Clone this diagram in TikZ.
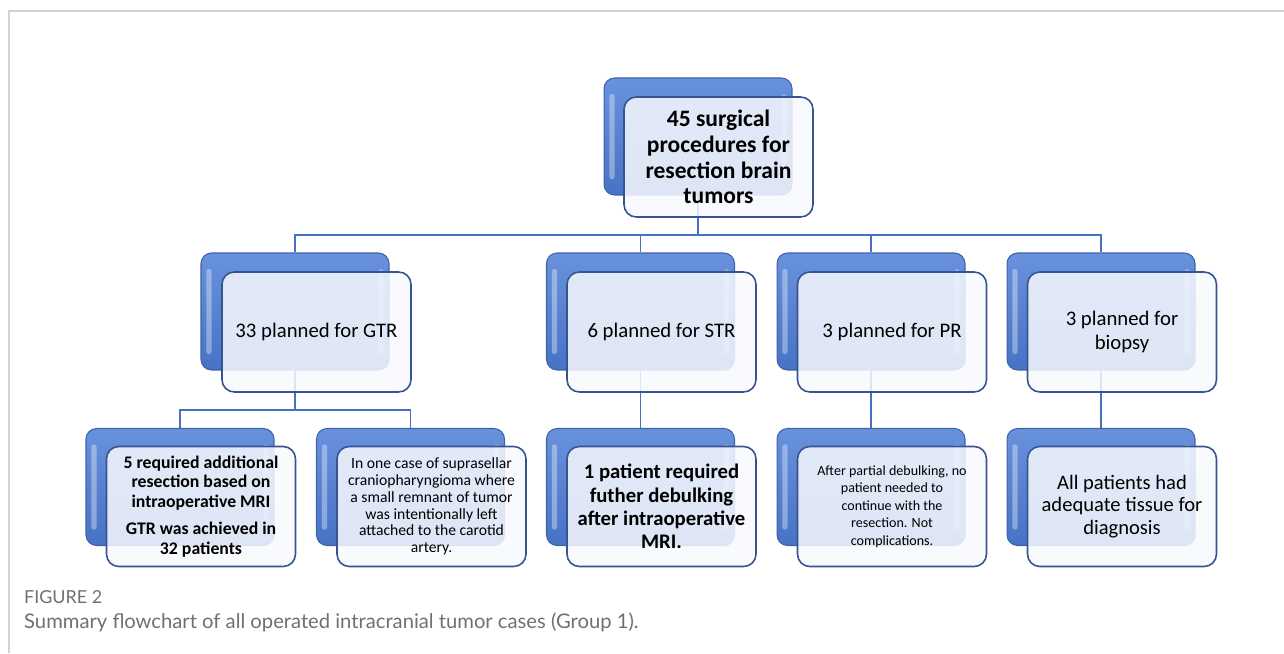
\documentclass[tikz,border=0pt]{standalone}
\usepackage{fontspec}
\setmainfont{Carlito}
\newfontfamily\capfont{Lato}
\usepackage{tikz}
\usetikzlibrary{positioning,calc,backgrounds}

\definecolor{backtop}{RGB}{104,146,220}
\definecolor{backbot}{RGB}{72,114,196}
\definecolor{backedge}{RGB}{62,98,172}
\definecolor{frontedge}{RGB}{54,84,146}
\definecolor{frontfill}{RGB}{247,249,254}
\definecolor{linkblue}{RGB}{68,114,196}
\definecolor{capgray}{RGB}{112,112,112}
\definecolor{framegray}{RGB}{210,210,210}

\begin{document}
\begin{tikzpicture}[x=0.02cm, y=-0.02cm,
    back/.style={rectangle, rounded corners=6pt, draw=backedge, line width=0.6pt,
                 top color=backtop, bottom color=backbot,
                 minimum width=3.76cm, minimum height=2.34cm, inner sep=0pt,
                 path picture={
                   \fill[white, opacity=0.35, rounded corners=1.5pt]
                     ($(path picture bounding box.north west)+(3pt,-9pt)$) rectangle
                     ($(path picture bounding box.south west)+(6pt,9pt)$);
                   \fill[white, opacity=0.25, rounded corners=1.5pt]
                     ($(path picture bounding box.north east)+(-6pt,-9pt)$) rectangle
                     ($(path picture bounding box.south east)+(-3pt,9pt)$);}},
    front/.style={rectangle, rounded corners=7pt, draw=frontedge, line width=0.9pt,
                  fill=frontfill, fill opacity=0.86, text opacity=1,
                  minimum width=3.78cm, minimum height=2.4cm, inner sep=0pt,
                  align=center},
    link/.style={draw=linkblue, line width=0.8pt},
]
    \useasboundingbox (0,0) rectangle (1284,653);
    \draw[framegray, line width=0.8pt] (9,653) -- (9,11) -- (1284,11);

    % Top
    \node[back] (totB) at (698,136.5) {};
    \node[front, font=\bfseries\fontsize{13.4}{14.7}\selectfont] (tot) at (718.5,157)
        {45 surgical\\procedures for\\resection brain\\tumors};

    % Planned resections
    \node[back] (gtrB) at (295,311.5) {};
    \node[front, font=\fontsize{11.8}{13.2}\selectfont] (gtr) at (316.5,332) {33 planned for GTR};

    \node[back] (strB) at (640.5,311.5) {};
    \node[front, font=\fontsize{11.8}{13.2}\selectfont] (str) at (661.5,332) {6 planned for STR};

    \node[back] (prB) at (871,311.5) {};
    \node[front, font=\fontsize{11.8}{13.2}\selectfont] (pr) at (892,332) {3 planned for PR};

    \node[back] (bioB) at (1101,311.5) {};
    \node[front, font=\fontsize{11.8}{13.2}\selectfont] (bio) at (1122,332) {3 planned for\\biopsy};

    % Outcomes
    \node[back] (addB) at (180,487) {};
    \node[front, font=\bfseries\fontsize{10.1}{11.3}\selectfont] (add) at (201,506.5)
        {5 required additional\\resection based on\\intraoperative MRI\\[4pt]GTR was achieved in\\32 patients};

    \node[back] (craB) at (410.5,487) {};
    \node[front, font=\fontsize{8.9}{9.6}\selectfont] (cra) at (431.5,506.5)
        {In one case of suprasellar\\craniopharyngioma where\\a small remnant of tumor\\was intentionally left\\attached to the carotid\\artery.};

    \node[back] (debB) at (640.5,487) {};
    \node[front, font=\bfseries\fontsize{11.8}{13.3}\selectfont] (deb) at (661.5,506.5)
        {1 patient required\\futher debulking\\after intraoperative\\MRI.};

    \node[back] (partB) at (871,487) {};
    \node[front, font=\fontsize{8}{9.9}\selectfont] (part) at (892,506.5)
        {After partial debulking, no\\patient needed to\\continue with the\\resection. Not\\complications.};

    \node[back] (tisB) at (1101,487) {};
    \node[front, font=\fontsize{11.7}{13}\selectfont] (tis) at (1122,506.5)
        {All patients had\\adequate tissue for\\diagnosis};

    % Connectors
    \coordinate (bus) at (0,235);
    \coordinate (gbus) at (0,410);
    \begin{scope}[on background layer]
        \draw[link] (totB.south) |- (bus -| gtrB.north) -- (gtrB.north);
        \draw[link] (totB.south) |- (bus -| strB.north) -- (strB.north);
        \draw[link] (totB.south) |- (bus -| prB.north) -- (prB.north);
        \draw[link] (totB.south) |- (bus -| bioB.north) -- (bioB.north);
        \draw[link] (gtrB.south) |- (gbus -| addB.north) -- (addB.north);
        \draw[link] (gtrB.south) |- (gbus -| craB.north) -- (craB.north);
        \draw[link] (strB.south) -- (debB.north);
        \draw[link] (prB.south) -- (partB.north);
        \draw[link] (bioB.south) -- (tisB.north);
    \end{scope}

    % Caption
    \node[font=\capfont\fontsize{10.2}{12}\selectfont, text=capgray, anchor=base west] (fig) at (18,603) {FIGURE 2};
    \node[font=\capfont\fontsize{11.5}{13}\selectfont, text=capgray, anchor=base west] (cap) at (18,628)
        {Summary flowchart of all operated intracranial tumor cases (Group 1).};
\end{tikzpicture}
\end{document}
